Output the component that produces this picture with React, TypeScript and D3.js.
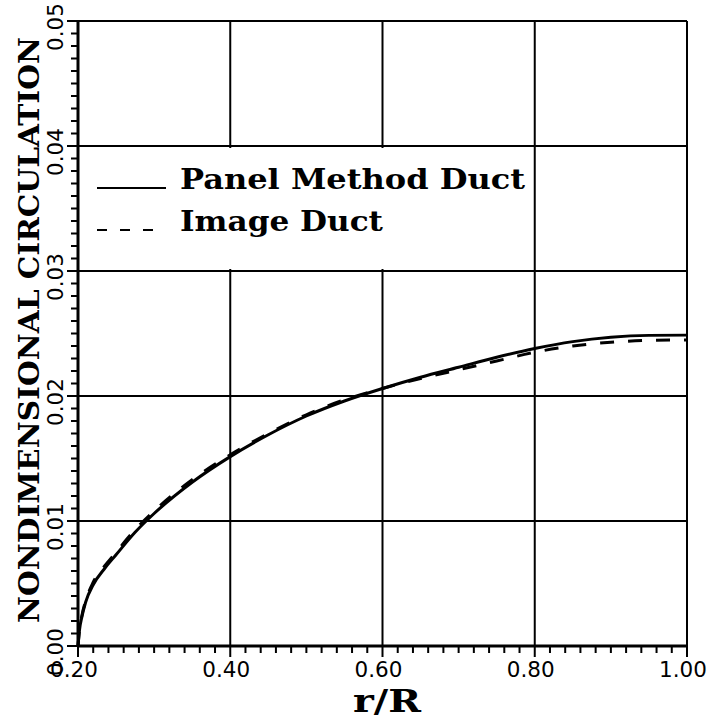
import React, { useEffect, useRef } from 'react'
import * as d3 from 'd3'

// r/R stations
const rValues = [0.2, 0.202, 0.205, 0.21, 0.22, 0.235, 0.25, 0.275, 0.3, 0.35, 0.4, 0.45, 0.5, 0.55, 0.6, 0.65, 0.7, 0.75, 0.8, 0.85, 0.9, 0.95, 1.0]
const panelDuct = [0.0, 0.0013, 0.0023, 0.0035, 0.0049, 0.0062, 0.0073, 0.0091, 0.0106, 0.0131, 0.01515, 0.0169, 0.0184, 0.0196, 0.0206, 0.0215, 0.0223, 0.0231, 0.0238, 0.02435, 0.0247, 0.02485, 0.02487]
const imageDuct = [0.0, 0.0013, 0.0024, 0.0036, 0.0051, 0.0064, 0.0075, 0.0093, 0.0108, 0.0133, 0.0153, 0.0170, 0.0185, 0.0197, 0.0206, 0.0214, 0.0221, 0.0228, 0.0235, 0.0240, 0.0243, 0.02445, 0.02448]

const xTicks = [0.2, 0.4, 0.6, 0.8, 1.0]
const yTicks = [0, 0.01, 0.02, 0.03, 0.04, 0.05]
const legendLabels = ['Panel Method Duct', 'Image Duct']

const W = 708
const H = 723
const serif = '"DejaVu Serif", serif'
const sans = '"DejaVu Sans", sans-serif'

const App: React.FC = () => {
  const ref = useRef<SVGSVGElement>(null)

  useEffect(() => {
    if (!ref.current) return
    const svg = d3.select(ref.current)
    svg.selectAll('*').remove()

    const x = d3.scaleLinear().domain([0.2, 1.0]).range([78, 687])
    const y = d3.scaleLinear().domain([0, 0.05]).range([646, 21])

    const g = svg.append('g')

    // grid
    g.append('g').selectAll('line')
      .data(xTicks)
      .join('line')
      .attr('x1', d => x(d)).attr('x2', d => x(d))
      .attr('y1', y(0)).attr('y2', y(0.05))
      .attr('stroke', '#000').attr('stroke-width', 2)

    g.append('g').selectAll('line')
      .data(yTicks)
      .join('line')
      .attr('x1', x(0.2)).attr('x2', x(1.0))
      .attr('y1', d => y(d)).attr('y2', d => y(d))
      .attr('stroke', '#000').attr('stroke-width', 2)

    // minor ticks: 0.02 on r/R, 0.001 on circulation
    const xMinor = d3.range(0, 41).map(i => 0.2 + i * 0.02)
    const yMinor = d3.range(0, 51).map(i => i * 0.001)

    const tickPath = d3.path()
    xMinor.forEach((d, i) => {
      const len = i % 10 === 0 ? 11 : 7
      tickPath.moveTo(x(d), y(0))
      tickPath.lineTo(x(d), y(0) + len)
    })
    yMinor.forEach((d, i) => {
      const len = i % 10 === 0 ? 11 : 7
      tickPath.moveTo(x(0.2), y(d))
      tickPath.lineTo(x(0.2) - len, y(d))
    })
    g.append('path')
      .attr('d', tickPath.toString())
      .attr('fill', 'none')
      .attr('stroke', '#000')
      .attr('stroke-width', 2)

    // axis lines a bit heavier
    g.append('line').attr('x1', x(0.2) - 1).attr('x2', x(1.0) + 1).attr('y1', y(0)).attr('y2', y(0))
      .attr('stroke', '#000').attr('stroke-width', 3)
    g.append('line').attr('x1', x(0.2)).attr('x2', x(0.2)).attr('y1', y(0) + 1).attr('y2', y(0.05) - 1)
      .attr('stroke', '#000').attr('stroke-width', 3)

    // tick labels
    g.append('g').selectAll('text')
      .data(xTicks)
      .join('text')
      .attr('x', d => x(d) - 4)
      .attr('y', 677)
      .attr('text-anchor', 'middle')
      .attr('font-family', sans)
      .attr('font-size', 21.5)
      .text(d => d.toFixed(2))

    g.append('g').selectAll('text')
      .data(yTicks)
      .join('text')
      .attr('transform', d => `translate(63,${y(d) + 6}) rotate(-90)`)
      .attr('text-anchor', 'middle')
      .attr('font-family', sans)
      .attr('font-size', 21.5)
      .text(d => d.toFixed(2))

    // axis titles
    g.append('text')
      .attr('transform', `translate(39,330) rotate(-90)`)
      .attr('text-anchor', 'middle')
      .attr('font-family', serif)
      .attr('font-weight', 'bold')
      .attr('font-size', 28)
      .attr('textLength', 586)
      .attr('lengthAdjust', 'spacingAndGlyphs')
      .text('NONDIMENSIONAL CIRCULATION')

    g.append('text')
      .attr('x', 387)
      .attr('y', 712)
      .attr('text-anchor', 'middle')
      .attr('font-family', serif)
      .attr('font-weight', 'bold')
      .attr('font-size', 31)
      .attr('textLength', 68)
      .attr('lengthAdjust', 'spacingAndGlyphs')
      .text('r/R')

    // curves
    const line = d3.line<number>()
      .x((d, i) => x(rValues[i]))
      .y(d => y(d))
      .curve(d3.curveMonotoneX)

    g.append('path')
      .attr('d', line(panelDuct))
      .attr('fill', 'none')
      .attr('stroke', '#000')
      .attr('stroke-width', 3)

    g.append('path')
      .attr('d', line(imageDuct))
      .attr('fill', 'none')
      .attr('stroke', '#000')
      .attr('stroke-width', 3)
      .attr('stroke-dasharray', '14,14')

    // legend (white box hides grid behind it)
    const leg = g.append('g')
    leg.append('rect')
      .attr('x', x(0.2) + 2)
      .attr('y', y(0.04) + 2)
      .attr('width', 452)
      .attr('height', y(0.03) - y(0.04) - 4)
      .attr('fill', '#fff')
    const legendWidths = [345, 203]
    legendLabels.forEach((lab, i) => {
      const ly = 188 + i * 42
      leg.append('line')
        .attr('x1', 97).attr('x2', 166)
        .attr('y1', ly).attr('y2', ly)
        .attr('stroke', '#000').attr('stroke-width', 2)
        .attr('stroke-dasharray', i === 0 ? null : '10,13')
      leg.append('text')
        .attr('x', 180)
        .attr('y', ly + 1)
        .attr('font-family', serif)
        .attr('font-weight', 'bold')
        .attr('font-size', 28)
        .attr('textLength', legendWidths[i])
        .attr('lengthAdjust', 'spacingAndGlyphs')
        .text(lab)
    })
  }, [])

  return (
    <svg ref={ref} width={W} height={H} style={{ position: 'absolute', left: 0, top: 0, background: '#fff' }}></svg>
  )
}

export default App
